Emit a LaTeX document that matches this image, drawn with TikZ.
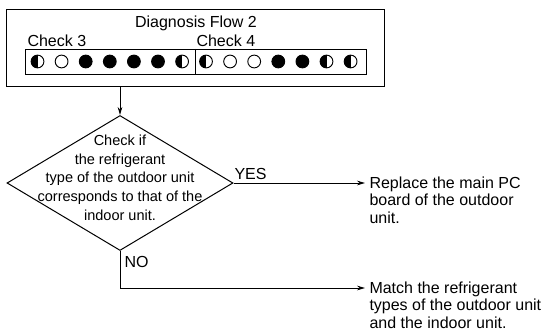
\documentclass[tikz,border=0pt]{standalone}
\usepackage{fontspec}
\setmainfont{Liberation Sans}
\usetikzlibrary{shapes.geometric,arrows.meta}
\begin{document}
\begin{tikzpicture}[x=0.75pt,y=-0.75pt,
  line width=0.75pt,
  txt/.style={font=\fontsize{12}{13}\selectfont, inner sep=0pt},
  dtxt/.style={font=\fontsize{10.9}{14}\selectfont, align=center, inner sep=0pt},
  led/.style={circle, draw, minimum size=9.6pt, inner sep=0pt, line width=0.7pt},
  ledon/.style={led, fill=black},
  ledoff/.style={led},
  ledhalf/.style={led, path picture={\fill (path picture bounding box.south west) rectangle (path picture bounding box.north);}},
  arr/.style={-{Stealth[length=6pt,width=3.5pt]}},
]
\useasboundingbox (0,0) rectangle (541,331);
% header box
\node[draw, minimum width=283.5pt, minimum height=57.75pt, anchor=north west, inner sep=0pt] (outer) at (6,9) {};
\node[txt, anchor=base] (title) at (196,28) {Diagnosis Flow 2};
\node[txt, anchor=base west] (chk3) at (27,47) {Check 3};
\node[txt, anchor=base west] (chk4) at (196,47) {Check 4};
\node[draw, minimum width=255.75pt, minimum height=18.75pt, anchor=north west, inner sep=0pt] (inner) at (25,49) {};
\draw (195,49) -- (195,74);
% LEDs check 3
\node[ledhalf] (l1) at (37.5,61.5) {};
\node[ledoff]  (l2) at (61.6,61.5) {};
\node[ledon]   (l3) at (85.7,61.5) {};
\node[ledon]   (l4) at (109.8,61.5) {};
\node[ledon]   (l5) at (133.9,61.5) {};
\node[ledon]   (l6) at (158,61.5) {};
\node[ledhalf] (l7) at (182.1,61.5) {};
% LEDs check 4
\node[ledhalf] (m1) at (206,61.5) {};
\node[ledoff]  (m2) at (230.1,61.5) {};
\node[ledoff]  (m3) at (254.2,61.5) {};
\node[ledon]   (m4) at (278.3,61.5) {};
\node[ledon]   (m5) at (302.4,61.5) {};
\node[ledhalf] (m6) at (326.5,61.5) {};
\node[ledhalf] (m7) at (350.6,61.5) {};
% decision
\node[diamond, draw, minimum width=169.5pt, minimum height=101.25pt, inner sep=0pt] (dia) at (120,183) {};
\node[dtxt, anchor=north] (diatext) at (120,134.5) {Check if\\the refrigerant\\type of the outdoor unit\\corresponds to that of the\\indoor unit.};
\node[txt, anchor=base west] (yes) at (234,180) {YES};
\node[txt, anchor=base west] (no) at (124,267) {NO};
% results
\node[txt, align=left, anchor=north west] (res1) at (369,176.3) {Replace the main PC\\board of the outdoor\\unit.};
\node[txt, align=left, anchor=north west] (res2) at (369,281.3) {Match the refrigerant\\types of the outdoor unit\\and the indoor unit.};
\coordinate (noturn) at (120,288);
% connectors
\draw[arr] (dia.north |- outer.south) -- (dia.north);
\draw[arr] (dia.east) -- ([xshift=-3pt]res1.west |- dia.east);
\draw[arr] (dia.south) -- (noturn) -- ([xshift=-3pt]res2.west |- noturn);
\end{tikzpicture}
\end{document}
